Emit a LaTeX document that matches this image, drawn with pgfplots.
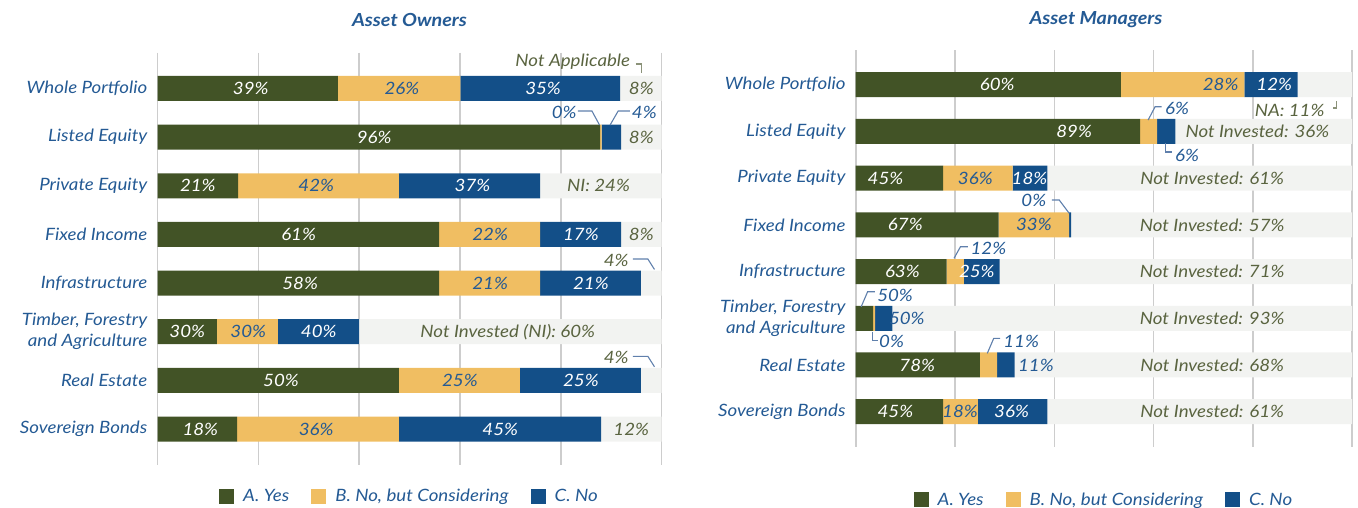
\documentclass[border=0pt]{standalone}
\usepackage{pgfplots}
\usepackage{pgfplotstable}
\pgfplotsset{compat=1.18}
\usepackage{fontspec}
\setmainfont{Lato}[FakeStretch=1.1]

\definecolor{cGreen}{HTML}{425326}
\definecolor{cYellow}{HTML}{F0BE62}
\definecolor{cBlue}{HTML}{134F88}
\definecolor{cGray}{HTML}{F2F3F1}
\definecolor{cLab}{HTML}{245A94}
\definecolor{cOlive}{HTML}{5A6440}
\definecolor{cGrid}{HTML}{CDCDCD}
\definecolor{cLead}{HTML}{6080AC}

% plotted lengths (share of all respondents)
\pgfplotstableread{
cat yes cons no rest
0 35.8 24.3 31.7 8.2
1 87.8 0.3 3.9 8.0
2 16.0 31.9 28.0 24.1
3 55.9 20.0 16.1 8.0
4 55.9 20.0 20.0 4.1
5 11.8 12.1 16.1 60.0
6 47.9 24.0 24.0 4.1
7 15.8 32.1 40.1 12.0
}\AOdata

\pgfplotstableread{
cat yes cons no rest
0 53.4 24.9 10.7 11.0
1 57.3 3.4 3.7 35.6
2 17.6 14.0 7.0 61.4
3 28.8 14.2 0.4 56.6
4 18.3 3.5 7.2 71.0
5 3.5 0.4 3.5 92.6
6 25.0 3.5 3.5 68.0
7 17.6 7.0 14.0 61.4
}\AMdata

\newcommand{\lab}{\itshape\fontsize{17}{21}\selectfont}
\tikzset{lead/.style={draw=cLead, line width=1.1pt}}

\pgfplotsset{
  base/.style={scale only axis, anchor=south west, xmin=0, xmax=100, y dir=reverse, clip=false},
  AOgeom/.style={base, at={(157.5pt,43pt)}, width=504pt, height=412.3pt, ymin=-0.736, ymax=7.74},
  AMgeom/.style={base, at={(855.7pt,61.3pt)}, width=496.5pt, height=396.7pt, ymin=-0.743, ymax=7.75},
  barax/.style={
    xbar stacked, bar width=25pt,
    axis line style={draw=none}, tick style={draw=none},
    xtick={0,20,...,100}, xticklabels={}, xmajorgrids,
    major grid style={draw=cGrid, line width=1.6pt},
    ytick={0,...,7},
    yticklabel style={font=\lab, text=cLab, align=right, inner sep=0pt, xshift=-10pt},
    legend image code/.code={\fill[##1] (0pt,-7.5pt) rectangle (15pt,7.5pt);},
    legend columns=3,
    legend style={draw=none, fill=none, font=\lab, text=cLab,
       /tikz/every odd column/.append style={column sep=7pt},
       /tikz/every even column/.append style={column sep=20pt}},
    title style={font=\bfseries\itshape\fontsize{18}{20}\selectfont, text=cLab, anchor=center, at={(0.5,1)}},
  },
  vals/.style={only marks, mark=*, mark size=0.1pt, mark options={draw=none, fill=none},
     nodes near coords, point meta=explicit symbolic,
     nodes near coords style={font=\lab, text=#1, anchor=center, inner sep=0pt}},
}

\begin{document}
\begin{tikzpicture}
\useasboundingbox (0,0) rectangle (1358pt,508pt);

% ---------------- Asset Owners ----------------
\begin{axis}[AOgeom, barax,
  title={Asset Owners}, title style={yshift=26.7pt},
  yticklabels={Whole Portfolio, Listed Equity, Private Equity, Fixed Income, Infrastructure, {Timber, Forestry\\and Agriculture}, Real Estate, Sovereign Bonds},
  legend style={at={(0.5,-0.0752)}, anchor=center},
]
\addplot[fill=cGreen, draw=none] table[x=yes, y=cat] {\AOdata};
\addplot[fill=cYellow, draw=none] table[x=cons, y=cat] {\AOdata};
\addplot[fill=cBlue, draw=none] table[x=no, y=cat] {\AOdata};
\addplot[fill=cGray, draw=none, forget plot] table[x=rest, y=cat] {\AOdata};
\legend{A. Yes, B. No{,} but Considering, C. No}
\end{axis}

\begin{axis}[AOgeom, hide axis]
\addplot[vals=white] coordinates {
 (18.5,0) [39\%] (76.5,0) [35\%] (43,1) [96\%] (8,2) [21\%] (62.5,2) [37\%]
 (28,3) [61\%] (84,3) [17\%] (28.3,4) [58\%] (86,4) [21\%] (5.9,5) [30\%]
 (32,5) [40\%] (24.5,6) [50\%] (84,6) [25\%] (8.5,7) [18\%] (68,7) [45\%]
};
\addplot[vals=cLab] coordinates {
 (48.5,0) [26\%] (31.5,2) [42\%] (66,3) [22\%] (66,4) [21\%] (18,5) [30\%]
 (60,6) [25\%] (31.5,7) [36\%]
};
\addplot[vals=cOlive] coordinates {
 (96,0) [8\%] (96,1) [8\%] (87.5,2) [NI: 24\%] (96,3) [8\%]
 (69.5,5) [Not Invested (NI): 60\%] (94,7) [12\%]
};
\node[anchor=east, font=\lab, text=cOlive, inner sep=0pt] at (axis cs:93.8,-0.545) {Not Applicable};
\draw[draw=cOlive!70, line width=1.1pt] (axis cs:94.9,-0.504) -- (axis cs:96.1,-0.504) -- (axis cs:96.1,-0.319);
\node[anchor=east, font=\lab, text=cLab, inner sep=0pt] at (axis cs:83.2,0.483) {0\%};
\draw[lead] (axis cs:83.4,0.463) -- (axis cs:86.2,0.463) -- (axis cs:87.7,0.751);
\node[anchor=west, font=\lab, text=cLab, inner sep=0pt] at (axis cs:94.1,0.483) {4\%};
\draw[lead] (axis cs:93.7,0.463) -- (axis cs:91.4,0.463) -- (axis cs:89.8,0.751);
\node[anchor=east, font=\lab, text=cOlive, inner sep=0pt] at (axis cs:93.5,3.526) {4\%};
\draw[lead] (axis cs:94.3,3.506) -- (axis cs:97.3,3.506) -- (axis cs:98.6,3.72);
\node[anchor=east, font=\lab, text=cOlive, inner sep=0pt] at (axis cs:93.5,5.527) {4\%};
\draw[lead] (axis cs:94.3,5.507) -- (axis cs:97.3,5.507) -- (axis cs:98.6,5.72);
\end{axis}

% ---------------- Asset Managers ----------------
\begin{axis}[AMgeom, barax,
  title={Asset Managers}, title style={yshift=24pt, xshift=-8pt},
  yticklabels={Whole Portfolio, Listed Equity, Private Equity, Fixed Income, Infrastructure, {Timber, Forestry\\and Agriculture}, Real Estate, Sovereign Bonds},
  legend style={at={(0.5,-0.134)}, anchor=center},
]
\addplot[fill=cGreen, draw=none] table[x=yes, y=cat] {\AMdata};
\addplot[fill=cYellow, draw=none] table[x=cons, y=cat] {\AMdata};
\addplot[fill=cBlue, draw=none] table[x=no, y=cat] {\AMdata};
\addplot[fill=cGray, draw=none, forget plot] table[x=rest, y=cat] {\AMdata};
\legend{A. Yes, B. No{,} but Considering, C. No}
\end{axis}

\begin{axis}[AMgeom, hide axis]
\addplot[vals=white] coordinates {
 (28.5,0) [60\%] (84.3,0) [12\%] (44,1) [89\%] (6,2) [45\%] (35,2) [18\%]
 (10,3) [67\%] (9.4,4) [63\%] (24.4,4) [25\%] (12.4,6) [78\%] (8,7) [45\%] (31.4,7) [36\%]
};
\addplot[vals=cLab] coordinates {
 (73.5,0) [28\%] (24.1,2) [36\%] (35.9,3) [33\%] (10.3,5) [50\%] (36.3,6) [11\%] (21,7) [18\%]
};
\addplot[vals=cOlive] coordinates {
 (80.9,1) [Not Invested: 36\%] (71.8,2) [Not Invested: 61\%] (71.8,3) [Not Invested: 57\%]
 (71.8,4) [Not Invested: 71\%] (71.8,5) [Not Invested: 93\%] (71.8,6) [Not Invested: 68\%]
 (71.8,7) [Not Invested: 61\%]
};
\node[anchor=center, font=\lab, text=cOlive, inner sep=0pt] at (axis cs:87.4,0.542) {NA: 11\%};
\draw[draw=cOlive!70, line width=1.1pt] (axis cs:96.9,0.349) -- (axis cs:96.9,0.499) -- (axis cs:96.1,0.499);
\node[anchor=west, font=\lab, text=cLab, inner sep=0pt] at (axis cs:62.3,0.499) {6\%};
\draw[lead] (axis cs:61.6,0.471) -- (axis cs:60.3,0.471) -- (axis cs:58.9,0.756);
\node[anchor=west, font=\lab, text=cLab, inner sep=0pt] at (axis cs:64.3,1.505) {6\%};
\draw[lead] (axis cs:62.4,1.248) -- (axis cs:62.4,1.441) -- (axis cs:63.7,1.441);
\node[anchor=east, font=\lab, text=cLab, inner sep=0pt] at (axis cs:38.4,2.48) {0\%};
\draw[lead] (axis cs:39.5,2.469) -- (axis cs:41.0,2.469) -- (axis cs:43.0,2.754);
\node[anchor=west, font=\lab, text=cLab, inner sep=0pt] at (axis cs:23.1,3.497) {12\%};
\draw[lead] (axis cs:22.6,3.469) -- (axis cs:21.1,3.469) -- (axis cs:19.8,3.717);
\node[anchor=west, font=\lab, text=cLab, inner sep=0pt] at (axis cs:4.3,4.503) {50\%};
\draw[lead] (axis cs:3.85,4.433) -- (axis cs:2.4,4.433) -- (axis cs:1.1,4.754);
\node[anchor=west, font=\lab, text=cLab, inner sep=0pt] at (axis cs:4.7,5.503) {0\%};
\draw[lead] (axis cs:3.42,5.289) -- (axis cs:3.42,5.482) -- (axis cs:4.53,5.482);
\node[anchor=west, font=\lab, text=cLab, inner sep=0pt] at (axis cs:29.7,5.503) {11\%};
\draw[lead] (axis cs:29.1,5.430) -- (axis cs:27.8,5.430) -- (axis cs:26.5,5.752);
\end{axis}
\end{tikzpicture}
\end{document}
